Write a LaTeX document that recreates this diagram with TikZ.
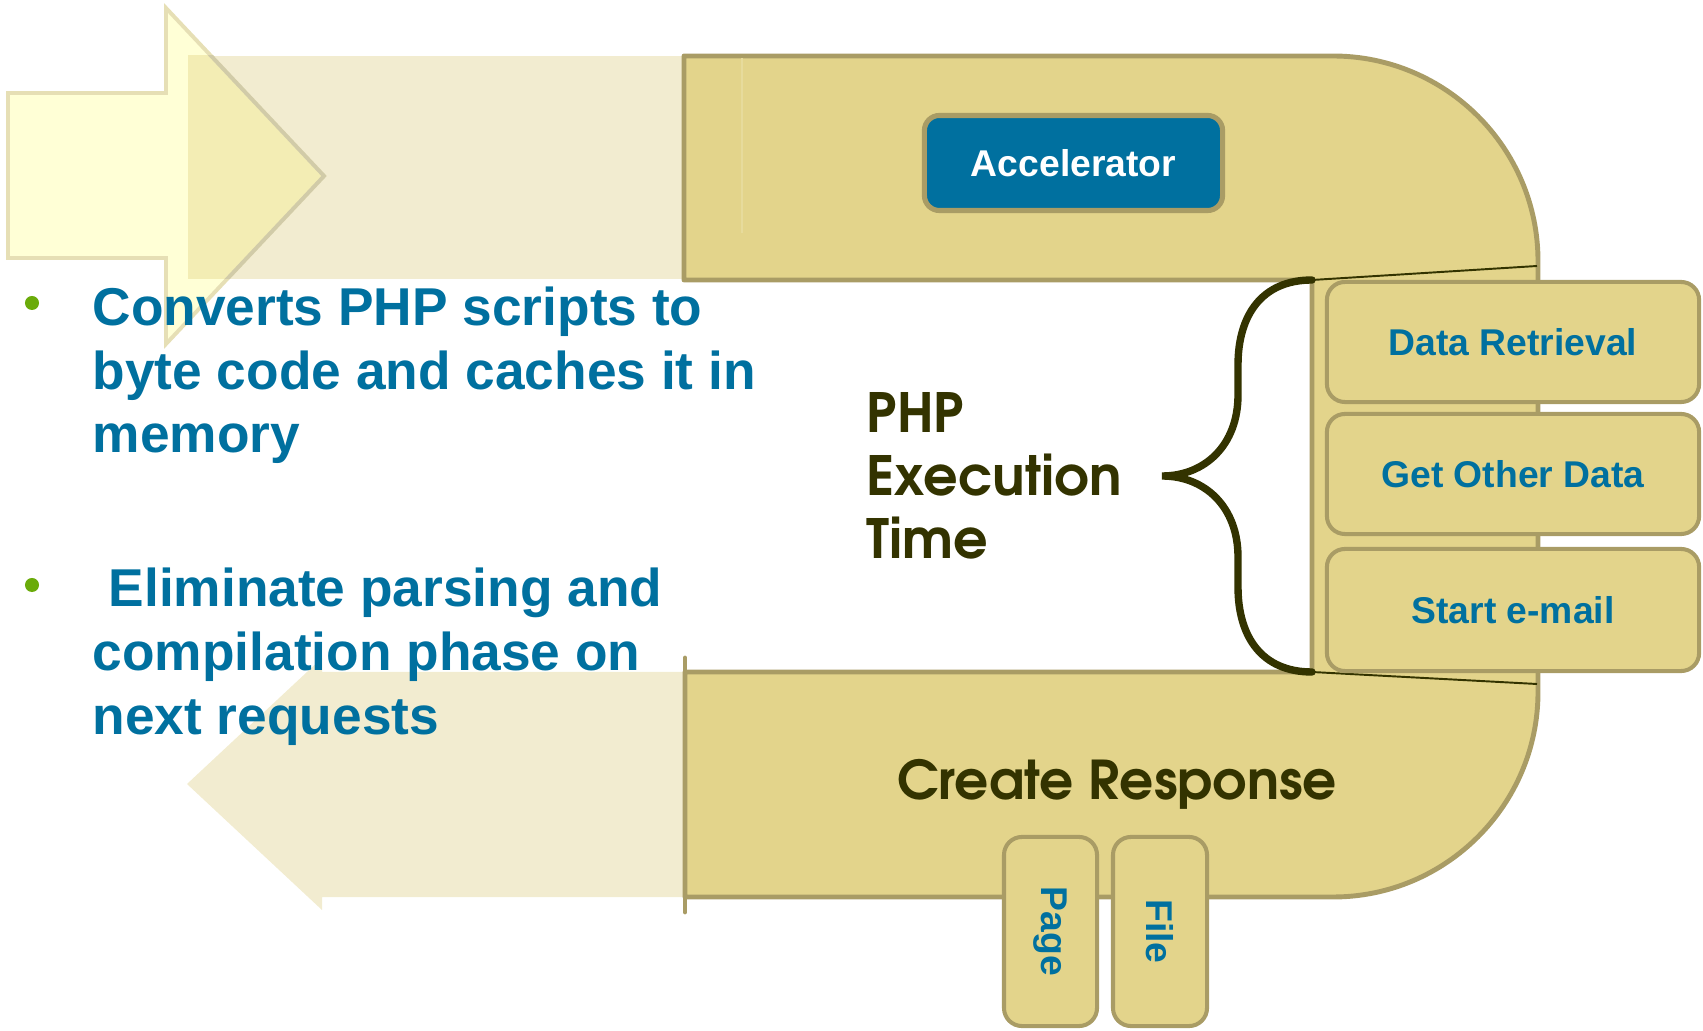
\documentclass[tikz,border=0pt]{standalone}
\usepackage{fontspec}
\setmainfont{Liberation Sans}
\newfontfamily\gothic{texgyreadventor}[Extension=.otf, UprightFont=*-regular, BoldFont=*-bold]
\definecolor{ufill}{HTML}{E3D48B}
\definecolor{uborder}{HTML}{A99C65}
\definecolor{ublue}{HTML}{00709F}
\definecolor{olive}{HTML}{333300}
\definecolor{bgreen}{HTML}{6AAB0A}
\definecolor{bandc}{HTML}{F2ECD0}
\definecolor{arrowc}{HTML}{FFFFD6}
\definecolor{arrowb}{HTML}{E6DFB5}
\definecolor{overlapc}{HTML}{F3EDB4}
\tikzset{
  ubox/.style={draw=uborder, line width=1.15pt, fill=ufill, rounded corners=0.18cm, inner sep=0pt},
  boxtext/.style={font=\bfseries\fontsize{10.6}{12}\selectfont, text=ublue},
  bullettext/.style={anchor=base west, inner sep=0pt, text=ublue, font=\bfseries\fontsize{15.15}{18}\selectfont},
  gothtext/.style={inner sep=0pt, text=olive, font=\gothic\bfseries\fontsize{15.4}{18}\selectfont},
  dot/.style={circle, fill=bgreen, minimum size=0.14cm, inner sep=0pt},
}
\begin{document}
\begin{tikzpicture}[x=0.01cm,y=-0.01cm]
\useasboundingbox (0,0) rectangle (1703,1031);

% lower-left pale arrow (pointing left)
\fill[bandc] (187,784) -- (322,658) -- (322,672) -- (686,672) -- (686,897) -- (322,897) -- (322,910) -- cycle;

% pale band behind top arm
\fill[bandc] (188,56) rectangle (684,279);

% big right-pointing arrow
\path[fill=arrowc, draw=arrowb, line width=1.1pt, line join=miter]
  (8,93) -- (166,93) -- (166,8) -- (324,176) -- (166,344) -- (166,258) -- (8,258) -- cycle;
\begin{scope}
  \clip (188,56) rectangle (684,279);
  \path[fill=overlapc, draw=arrowb!90!black!95, line width=1.1pt]
    (8,93) -- (166,93) -- (166,8) -- (324,176) -- (166,344) -- (166,258) -- (8,258) -- cycle;
\end{scope}

% U shaped body
\path[fill=ufill, draw=uborder, line width=1.4pt, line join=round]
  (684,56) -- (1333,56) .. controls (1446,56) and (1538,148) .. (1538,261)
  -- (1538,692) .. controls (1538,805) and (1446,897) .. (1333,897)
  -- (685,897) -- (685,672) -- (1312,672) -- (1312,280) -- (684,280) -- cycle;
\draw[uborder, line width=1.4pt, line cap=round] (685,658) -- (685,912);
\draw[ufill!85!white, line width=0.4pt] (742,58) -- (742,233);

% accelerator
\node[draw=uborder, line width=1.45pt, fill=ublue, rounded corners=0.15cm,
      minimum width=2.98cm, minimum height=0.95cm, inner sep=0pt,
      text=white, font=\bfseries\fontsize{10.6}{12}\selectfont] (acc) at (1073.5,163) {Accelerator};

% brace and thin lines
\coordinate (bt) at (1312,280);
\coordinate (bb) at (1312,672);
\coordinate (rt) at (1537,266);
\coordinate (rb) at (1537,684);
\draw[olive, line width=0.55pt] (bt) -- (rt);
\draw[olive, line width=0.55pt] (bb) -- (rb);
\draw[olive, line width=2.1pt, line cap=round]
  (bt) .. controls (1262,280) and (1238,315) .. (1238,365) -- (1238,395)
  .. controls (1238,445) and (1205,476) .. (1162,476)
  .. controls (1205,476) and (1238,507) .. (1238,557) -- (1238,587)
  .. controls (1238,637) and (1262,672) .. (bb);

% side boxes
\node[ubox, boxtext, minimum width=3.72cm, minimum height=1.2cm] (dr) at (1513,342) {Data Retrieval};
\node[ubox, boxtext, minimum width=3.72cm, minimum height=1.2cm] (god) at (1513,474) {Get Other Data};
\node[ubox, boxtext, minimum width=3.72cm, minimum height=1.22cm] (se) at (1513,610) {Start e-mail};

% page / file boxes
\node[ubox, boxtext, rotate=-90, minimum width=1.89cm, minimum height=0.93cm] (page) at (1050.5,931.5) {Page};
\node[ubox, boxtext, rotate=-90, minimum width=1.89cm, minimum height=0.94cm] (file) at (1160,931.5) {File};

% labels
\node[gothtext, anchor=base west] (php1) at (866,433) {PHP};
\node[gothtext, anchor=base west] (php2) at (866,496) {Execution};
\node[gothtext, anchor=base west] (php3) at (866,559) {Time};
\node[gothtext, anchor=base, font=\gothic\bfseries\fontsize{15.2}{19}\selectfont] (cr) at (1117,800) {Create Response};

% bullets
\node[dot] (d1) at (32,303) {};
\node[dot] (d2) at (32,585) {};
\node[bullettext] (l1) at (92,326) {Converts PHP scripts to};
\node[bullettext] (l2) at (92,390) {byte code and caches it in};
\node[bullettext] (l3) at (92,453) {memory};
\node[bullettext] (l4) at (108,607) {Eliminate parsing and};
\node[bullettext] (l5) at (92,671) {compilation phase on};
\node[bullettext] (l6) at (92,735) {next requests};
\end{tikzpicture}
\end{document}
